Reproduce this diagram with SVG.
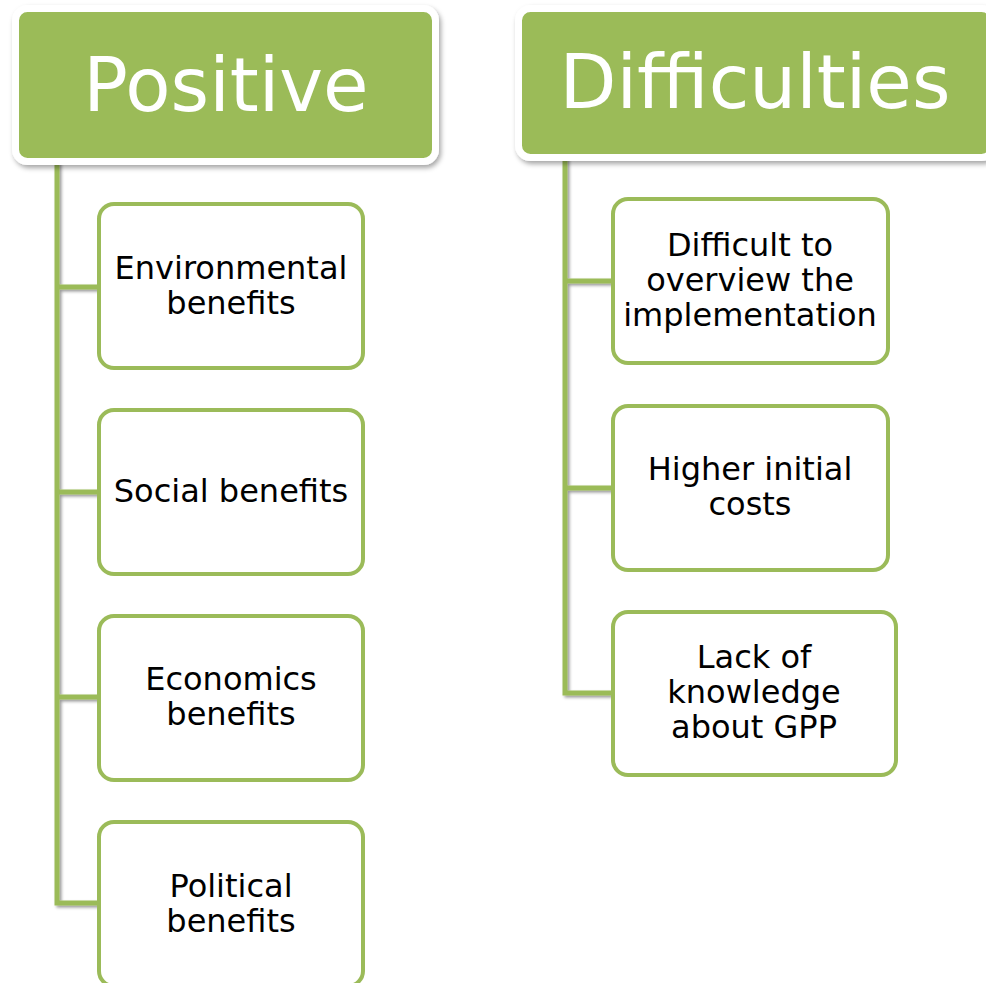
<svg xmlns="http://www.w3.org/2000/svg" width="986" height="983" viewBox="0 0 986 983">
<defs>
<filter id="sh" x="-10%" y="-10%" width="130%" height="130%">
<feDropShadow dx="2" dy="3" stdDeviation="2.5" flood-color="#000" flood-opacity="0.35"/>
</filter>
<filter id="lsh" x="-50%" y="-5%" width="300%" height="115%">
<feDropShadow dx="2" dy="2" stdDeviation="1.5" flood-color="#000" flood-opacity="0.4"/>
</filter>
</defs>
<style>
.hdr{fill:#9BBB59;stroke:#fff;stroke-width:7;}
.htx{font-family:"DejaVu Sans",Verdana,sans-serif;font-size:74px;fill:#fff;text-anchor:middle;}
.box{fill:#fff;stroke:#9BBB59;stroke-width:4;}
.btx{font-family:"DejaVu Sans",Verdana,sans-serif;font-size:32px;fill:#000;text-anchor:middle;}
.con{fill:none;stroke:#9BBB59;stroke-width:5;}
</style>
<rect width="986" height="983" fill="#fff"/>
<g id="connectors" filter="url(#lsh)">
<path class="con" d="M57,158 V903 H98 M57,287 H98 M57,492 H98 M57,697 H98"/>
<path class="con" d="M565,155 V693 H612 M565,281 H612 M565,488 H612"/>
</g>
<g id="positive">
<rect class="hdr" x="15.5" y="8.5" width="420" height="153" rx="12" filter="url(#sh)"/>
<text class="htx" x="226" y="111">Positive</text>
</g>
<g id="difficulties">
<rect class="hdr" x="518.5" y="8.5" width="475" height="149" rx="12" filter="url(#sh)"/>
<text class="htx" x="755" y="108">Difficulties</text>
</g>
<g id="env">
<rect class="box" x="99" y="204" width="264" height="164" rx="15"/>
<text class="btx" x="231" y="279">Environmental</text>
<text class="btx" x="231" y="314">benefits</text>
</g>
<g id="social">
<rect class="box" x="99" y="410" width="264" height="164" rx="15"/>
<text class="btx" x="231" y="502">Social benefits</text>
</g>
<g id="econ">
<rect class="box" x="99" y="616" width="264" height="164" rx="15"/>
<text class="btx" x="231" y="690">Economics</text>
<text class="btx" x="231" y="725">benefits</text>
</g>
<g id="political">
<rect class="box" x="99" y="822" width="264" height="164" rx="15"/>
<text class="btx" x="231" y="897">Political</text>
<text class="btx" x="231" y="932">benefits</text>
</g>
<g id="overview">
<rect class="box" x="613" y="199" width="275" height="164" rx="15"/>
<text class="btx" x="750" y="256">Difficult to</text>
<text class="btx" x="750" y="291">overview the</text>
<text class="btx" x="750" y="326">implementation</text>
</g>
<g id="costs">
<rect class="box" x="613" y="406" width="275" height="164" rx="15"/>
<text class="btx" x="750" y="480">Higher initial</text>
<text class="btx" x="750" y="515">costs</text>
</g>
<g id="knowledge">
<rect class="box" x="613" y="612" width="283" height="163" rx="15"/>
<text class="btx" x="754" y="668">Lack of</text>
<text class="btx" x="754" y="703">knowledge</text>
<text class="btx" x="754" y="738">about GPP</text>
</g>
</svg>
